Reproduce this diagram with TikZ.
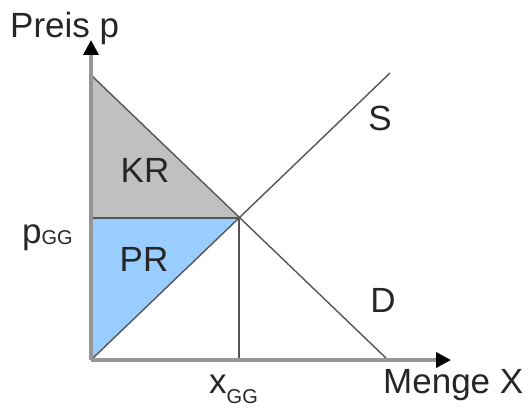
\documentclass[tikz,border=0pt]{standalone}
\usepackage{fontspec}
\setmainfont{Liberation Sans}
\usetikzlibrary{arrows.meta}
\definecolor{krgray}{RGB}{192,192,192}
\definecolor{prblue}{RGB}{153,204,255}
\definecolor{linegray}{RGB}{85,85,85}
\definecolor{axisgray}{RGB}{150,150,150}
\newcommand{\subfnt}{\fontsize{20}{22}\selectfont}
\tikzset{
  curve/.style={draw=linegray, line width=1.4pt},
  axisline/.style={draw=axisgray, line width=3.5pt, -{Triangle[length=15pt,width=15pt,color=black]}},
  lbl/.style={inner sep=0pt, font=\fontsize{35}{38}\selectfont, text=black!85}
}
\begin{document}
\begin{tikzpicture}[x=1pt,y=-1pt]
\useasboundingbox (0,0) rectangle (529,409);
\coordinate (O) at (91,360);
\coordinate (Dtop) at (91,75);
\coordinate (E) at (239,218);
\coordinate (Dend) at (388,360);
\coordinate (Stop) at (390,73);
\coordinate (Xb) at (239,360);
\coordinate (Pg) at (91,218);
\coordinate (Yend) at (91,40);
\coordinate (Xend) at (451,360);
% areas
\fill[krgray] (Dtop) -- (E) -- (Pg) -- cycle;
\fill[prblue] (Pg) -- (E) -- (O) -- cycle;
% lines
\draw[curve] (Dtop) -- (Dend);
\draw[curve] (O) -- (Stop);
\draw[curve] (Pg) -- (E);
\draw[curve] (E) -- (Xb);
% axes
\draw[axisline] (O) -- (Yend);
\draw[axisline] (O) -- (Xend);
% labels
\node[lbl, anchor=base west] (preis) at (10,38) {Preis p};
\node[lbl] (S) at (380,118) {S};
\node[lbl] (D) at (383,300) {D};
\node[lbl] (KR) at (145,170) {KR};
\node[lbl] (PR) at (144,259) {PR};
\node[lbl, anchor=base west] (pgg) at (22,243) {p\raisebox{-1pt}{\subfnt GG}};
\node[lbl, anchor=base west] (xgg) at (209,393) {x\raisebox{-10pt}{\subfnt GG}};
\node[lbl, anchor=base west] (menge) at (383,393) {Menge X};
\end{tikzpicture}
\end{document}
